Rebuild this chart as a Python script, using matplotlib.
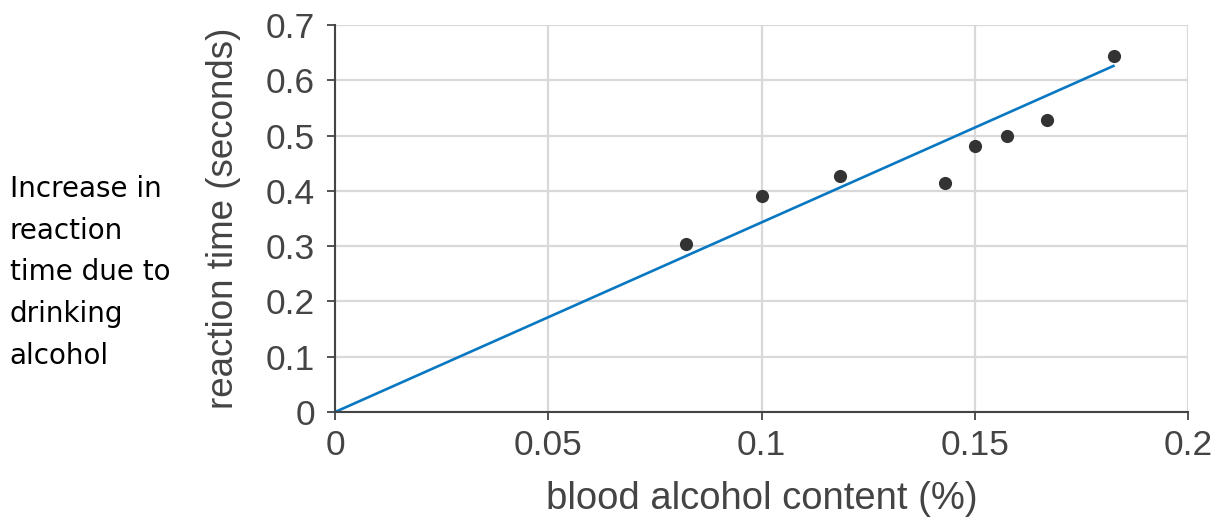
import matplotlib
matplotlib.use("Agg")
import matplotlib.pyplot as plt

# data
bac = [0.0822, 0.100, 0.1184, 0.1429, 0.150, 0.1575, 0.167, 0.1826]
reaction = [0.304, 0.391, 0.427, 0.4135, 0.481, 0.4997, 0.528, 0.644]
fit_x = [0.0, 0.1825]
fit_y = [0.0, 0.626]
x_ticks = [0, 0.05, 0.1, 0.15, 0.2]
x_tick_labels = ["0", "0.05", "0.1", "0.15", "0.2"]
y_ticks = [0, 0.1, 0.2, 0.3, 0.4, 0.5, 0.6, 0.7]
y_tick_labels = ["0", "0.1", "0.2", "0.3", "0.4", "0.5", "0.6", "0.7"]

plt.rcParams['font.family'] = ['Liberation Sans', 'DejaVu Sans']

fig = plt.figure(figsize=(12.17, 5.22), dpi=100)
ax = fig.add_axes([0.2753, 0.2107, 0.9762 - 0.2753, 0.952 - 0.2107])

ax.set_xlim(0, 0.2)
ax.set_ylim(0, 0.7)
ax.set_xticks(x_ticks)
ax.set_xticklabels(x_tick_labels)
ax.set_yticks(y_ticks)
ax.set_yticklabels(y_tick_labels)

ax.grid(True, color='#d9d9d9', linewidth=1.6, zorder=0)
ax.set_axisbelow(True)
for s in ['top', 'right']:
    ax.spines[s].set_visible(False)
for s in ['left', 'bottom']:
    ax.spines[s].set_color('#444444')
    ax.spines[s].set_linewidth(1.5)
    ax.spines[s].set_zorder(3)

ax.tick_params(axis='both', colors='#444444', labelsize=25.5, length=6, width=1.3,
               labelcolor='#444444')
ax.tick_params(axis='x', pad=6)
ax.tick_params(axis='y', pad=8.5)

ax.plot(fit_x, fit_y, color='#0a77c2', linewidth=1.9, zorder=3, clip_on=False)
ax.scatter(bac, reaction, s=90, color='#333333', zorder=4, linewidths=0)

ax.set_xlabel("blood alcohol content (%)", fontsize=27.5, color='#444444', labelpad=14)
ax.set_ylabel("reaction time (seconds)", fontsize=26.5, color='#444444', labelpad=18)

fig.text(0.008, 0.478, "Increase in\nreaction\ntime due to\ndrinking\nalcohol",
         fontsize=20, family='DejaVu Sans', color='black', va='center', ha='left',
         linespacing=1.63)

fig.savefig("out.png", dpi=100)
